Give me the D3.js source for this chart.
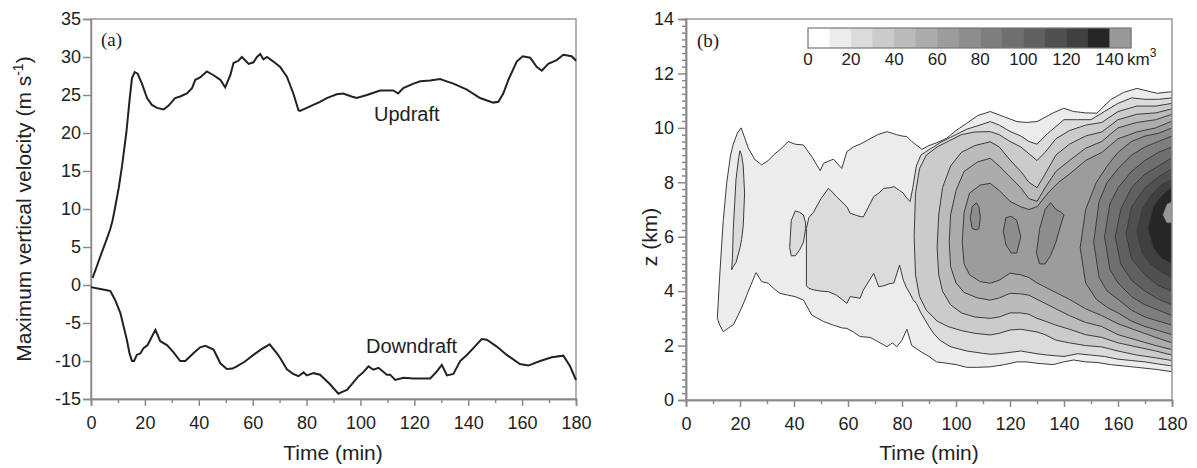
<!DOCTYPE html>
<html>
<head>
<meta charset="utf-8">
<script src="https://cdn.jsdelivr.net/npm/d3@7"></script>
<style>
  body { margin: 0; background: #fff; }
  svg { font-family: "Liberation Sans", Arial, sans-serif; }
  .axis path, .axis line { stroke: #8a8a8a; stroke-width: 1.5; }
  .axis text { font-size: 18px; fill: #222; }
  .title { font-size: 21px; fill: #222; }
</style>
</head>
<body>
<div id="chart"></div>
<script>
// ---- panel (a): maximum vertical velocity ----
var updraft = [[0.6,0.95],[2,2.3],[3.45,3.75],[5.7,5.9],[7.1,7.3],[8,8.5],[9,10.3],[10.3,12.8],[11.5,15.6],
  [13.1,20],[14.3,24.3],[15.2,27.2],[16.2,28.0],[17.3,27.8],[18.9,26.5],[20.8,24.6],[22.6,23.7],[24.5,23.3],
  [27,23.1],[28.8,23.6],[31.2,24.6],[33.1,24.8],[35.6,25.2],[37.5,25.9],[38.7,27],[40.5,27.3],[43,28.1],
  [45.5,27.6],[48,27],[49.8,26.0],[51.7,27.6],[52.9,29.2],[54.7,29.5],[56,30],[58.5,29.1],[60.3,29.3],
  [61.6,30.0],[62.8,30.4],[64,29.7],[65.3,30],[67.7,29.4],[70.2,28.7],[72.7,27.4],[75.1,25.2],[77,23.0],
  [77.6,22.9],[80.1,23.3],[82.5,23.7],[85,24.1],[87.5,24.6],[91.2,25.1],[93.6,25.2],[96.7,24.8],[98.6,24.6],
  [102.4,25.0],[107.3,25.6],[112.2,25.6],[114,25.2],[115.9,25.9],[119.7,26.5],[122.2,26.8],[125.9,26.9],
  [129.6,27.1],[132,26.8],[134.5,26.5],[139.5,25.7],[144.4,24.6],[149.3,24.0],[151.2,24.1],[153,25.2],
  [154.9,27.0],[158,29.4],[160.2,30.1],[163,29.9],[165.4,28.7],[167.3,28.2],[169.7,29.1],[172.8,29.6],
  [175.3,30.3],[178.4,30.1],[180,29.5]];

var downdraft = [[0,-0.28],[3,-0.5],[5.9,-0.7],[7.2,-0.8],[9,-2.0],[10.9,-3.7],[12,-5.3],[13.3,-7.2],
  [14.3,-9.0],[15.2,-10.0],[16,-10.0],[17,-9.2],[18.3,-9.0],[19.5,-8.3],[21,-7.9],[22,-7.2],[23.9,-5.9],
  [25.7,-7.4],[28.2,-7.9],[30.5,-8.8],[33.1,-10.0],[35,-10.0],[38.1,-8.96],[40.5,-8.2],[42.4,-8.0],
  [45.5,-8.5],[48,-10.3],[50.4,-11.06],[52.5,-11.0],[54.1,-10.7],[57,-10.1],[60.3,-9.2],[63,-8.5],
  [66.3,-7.8],[69,-9.0],[70.2,-9.6],[72.7,-11.1],[75,-11.7],[77,-12.0],[78.9,-11.5],[80.1,-11.9],
  [82.6,-11.6],[85,-11.8],[86.5,-12.3],[88.8,-13.1],[91.8,-14.3],[93.7,-14.0],[95,-13.8],[96.2,-13.3],
  [99.3,-12.0],[101,-11.5],[103,-10.7],[104.8,-11.15],[106.7,-10.9],[109.8,-11.8],[111,-11.8],
  [112.9,-12.5],[116,-12.2],[119.7,-12.3],[125.9,-12.3],[128.3,-11.4],[130.2,-10.5],[132.1,-11.9],
  [134.5,-11.7],[137,-10.0],[139.5,-9.2],[141.9,-8.3],[145,-7.1],[146.9,-7.2],[150.6,-8.1],[154.3,-9.2],
  [159.2,-10.4],[162.3,-10.6],[166.7,-10.0],[171,-9.5],[175.3,-9.3],[177.8,-10.7],[180,-12.5]];

var timeTicks = d3.range(0, 181, 20);
var velTicks = d3.range(-15, 36, 5);
var heightTicks = d3.range(0, 15, 2);

// ---- panel (b): volume contours, each piece = [time, lower z, upper z] ----
var lev10 = [[11.6,3.0,3.0],[12.5,2.75,4.6],[13.8,2.51,6.6],[15.1,2.6,8.0],[16.5,2.7,9.0],[17.5,2.76,9.4],
  [19,3.05,9.8],[20.4,3.35,10.0],[21.5,3.6,9.7],[23.1,4.0,9.25],[25.6,4.6,8.82],[26,4.68,8.8],[28,4.35,8.64],
  [30.5,4.29,8.8],[32.4,4.1,9.0],[34.8,3.92,9.2],[37.9,3.85,9.5],[40.4,3.8,9.4],[43.5,3.67,9.37],
  [46.6,3.12,8.94],[49.7,2.95,8.43],[51,2.88,8.7],[54.6,2.75,8.85],[57.7,2.65,8.51],[59.6,2.63,9.13],
  [62,2.5,9.3],[64.5,2.33,9.4],[68.2,2.3,9.6],[71,2.15,9.75],[74.4,1.96,9.86],[76.5,2.1,9.8],[78,1.95,9.75],
  [80,2.2,9.7],[81.8,2.6,9.68],[83.6,2.0,9.5],[87.4,1.75,9.21],[90,1.6,9.35],[92.8,1.4,9.45],[96.6,1.35,9.62],
  [100,1.3,9.9],[104,1.2,10.17],[108,1.2,10.45],[112.7,1.22,10.6],[118,1.3,10.4],[122.6,1.4,10.23],
  [126,1.4,10.2],[130,1.35,10.23],[136,1.3,10.55],[139.9,1.4,10.72],[143.6,1.47,10.6],[148,1.4,10.55],
  [152.2,1.38,10.54],[157.2,1.3,11.03],[162,1.25,11.3],[167,1.2,11.45],[174.5,1.12,11.27],[180,1.04,11.33]];

var lev20a = [[16.9,4.78,4.78],[17.2,4.85,5.2],[17.5,4.9,6.25],[18.5,5.05,8.08],[19.5,5.4,8.9],[20,5.6,9.16],
  [20.6,5.9,9.0],[21.2,6.4,8.6],[21.7,7.6,7.6]];
var lev20b = [[38.4,5.6,5.6],[39,5.3,6.6],[40.5,5.3,6.95],[42,5.5,6.9],[43.5,5.8,6.8],[44.3,6.3,6.5]];
var lev20c = [[44.6,4.2,6.3],[45.5,4.1,6.7],[47.2,4.05,6.9],[50,4.0,7.4],[52.8,3.98,7.78],[55.8,3.85,7.47],
  [59.6,3.55,7.1],[60.8,3.8,6.86],[64.5,3.74,6.74],[65.7,4.04,6.73],[69.5,4.65,7.47],[71.4,4.16,7.6],
  [73.3,4.2,7.78],[75.6,4.28,7.8],[77,4.3,7.84],[79.1,4.96,7.7],[80.5,4.4,7.6],[81.5,4.16,7.45],[83,3.9,7.29],
  [84,3.7,7.8],[85.3,3.55,8.6],[87,3.2,9.0],[90,2.7,9.2],[91.7,2.45,9.3],[94,2.2,9.45],[97.9,1.96,9.65],
  [104,1.8,9.95],[110.3,1.71,10.15],[112.7,1.68,10.23],[116,1.7,10.1],[120,1.75,9.87],[124,1.8,9.7],
  [127,1.75,9.5],[130,1.7,9.4],[134,1.65,9.8],[140,1.6,10.3],[145,1.7,10.3],[150,1.65,10.3],[155,1.6,10.6],
  [160,1.5,10.9],[165,1.45,11.1],[170,1.4,11.05],[175,1.32,11.05],[180,1.25,11.1]];

var lev30 = [[84.5,6.0,6.0],[85,4.6,7.6],[86.5,3.8,8.5],[89,3.3,9.0],[93,2.9,9.3],[97,2.7,9.5],[102,2.55,9.75],
  [107,2.45,9.85],[112.7,2.39,9.86],[116,2.45,9.75],[120,2.57,9.5],[124,2.6,9.3],[127,2.55,9.05],[130,2.5,8.8],
  [133,2.4,9.1],[137,2.2,9.6],[142,2.1,9.9],[148,2.0,10.1],[154,1.95,10.2],[160,1.8,10.6],[167,1.65,10.8],
  [174,1.55,10.8],[180,1.45,10.9]];
var lev40 = [[93,5.6,5.6],[93.6,4.6,6.8],[95,4.0,7.8],[98,3.5,8.6],[102,3.2,9.1],[107,3.05,9.35],[112.7,3.0,9.49],
  [116,3.05,9.3],[120,3.2,8.82],[124,3.2,8.4],[127,3.15,8.0],[130,3.0,7.8],[133,2.9,8.3],[137,2.75,9.0],
  [142,2.6,9.4],[148,2.4,9.7],[154,2.3,9.85],[160,2.1,10.3],[167,1.95,10.5],[174,1.8,10.55],[180,1.65,10.7]];
var lev50 = [[97.5,5.8,5.8],[98,4.9,6.8],[100,4.3,7.7],[103,3.95,8.4],[108,3.75,8.75],[112.7,3.67,8.88],
  [116,3.75,8.6],[120,3.92,8.2],[124,3.9,7.8],[127,3.85,7.4],[130,3.7,7.3],[133,3.55,7.8],[137,3.35,8.4],
  [142,3.1,8.8],[148,2.85,9.25],[154,2.7,9.5],[160,2.4,10.0],[167,2.2,10.2],[174,2.0,10.3],[180,1.85,10.5]];
var lev60 = [[102.3,5.8,5.8],[103,5.0,6.9],[105,4.6,7.6],[109,4.35,7.9],[112.7,4.29,7.96],[116,4.4,7.7],
  [120,4.66,7.3],[124,4.6,7.1],[127,4.5,7.0],[130,4.3,7.1],[134,4.1,7.6],[138,3.9,8.0],[142,3.7,8.3],
  [148,3.35,8.8],[154,3.1,9.1],[160,2.8,9.6],[167,2.55,9.85],[174,2.3,10.0],[180,2.1,10.25]];
var lev70a = [[105.3,6.7,6.7],[106,6.3,7.1],[107.5,6.25,7.25],[108.5,6.3,7.1],[109,6.7,6.7]];
var lev70b = [[117.5,6.2,6.2],[118.5,5.7,6.7],[120.5,5.4,6.75],[122.5,5.4,6.6],[124,6.0,6.0]];
var lev70c = [[129.8,5.4,5.4],[131,5.0,6.3],[133,5.0,7.0],[135,5.3,7.25],[137,5.8,7.0],[139,6.5,6.9],[140,6.8,6.8]];
var lev70d = [[146,5.6,5.6],[148,4.3,7.0],[152,3.7,8.0],[156,3.4,8.6],[160,3.2,9.1],[165,2.9,9.5],[170,2.7,9.7],
  [175,2.55,9.8],[180,2.4,10.0]];
var lev80 = [[151,5.8,5.8],[153,4.5,7.3],[156,4.0,8.0],[160,3.7,8.5],[165,3.3,9.0],[170,3.05,9.3],[175,2.9,9.5],[180,2.75,9.7]];
var lev90 = [[155,6.0,6.0],[157,4.8,7.2],[160,4.3,7.8],[165,3.8,8.4],[170,3.5,8.8],[175,3.3,9.1],[180,3.1,9.3]];
var lev100 = [[159,6.0,6.0],[161,5.0,7.0],[165,4.4,7.8],[170,4.0,8.3],[175,3.7,8.6],[180,3.5,8.9]];
var lev110 = [[163,6.1,6.1],[165,5.2,7.1],[170,4.6,7.8],[175,4.2,8.2],[180,4.0,8.5]];
var lev120 = [[167,6.2,6.2],[169,5.4,7.0],[172,5.0,7.5],[176,4.7,7.9],[180,4.5,8.1]];
var lev130 = [[171,6.3,6.3],[173,5.6,7.1],[176,5.2,7.5],[180,5.0,7.85]];
var lev140 = [[176.5,6.8,6.8],[178,6.5,7.2],[180,6.5,7.3]];

var levels = [10,20,30,40,50,60,70,80,90,100,110,120,130,140];
var levelColors = ["#ececec","#dbdbdb","#cbcbcb","#bbbbbb","#acacac","#9c9c9c","#8d8d8d",
  "#7e7e7e","#6f6f6f","#606060","#505050","#404040","#262626","#999999"];
var levelPieces = [[lev10],[lev20a,lev20b,lev20c],[lev30],[lev40],[lev50],[lev60],
  [lev70a,lev70b,lev70c,lev70d],[lev80],[lev90],[lev100],[lev110],[lev120],[lev130],[lev140]];
var barTicks = d3.range(0, 141, 20);

var width = 1197, height = 468;
var plain = function(d) { return String(d); };   // hyphen minus like the original

var svg = d3.select("#chart").append("svg")
  .attr("width", width).attr("height", height);

//----- panel (a)
var xA = d3.scaleLinear().domain([0, 180]).range([91, 576]);
var yA = d3.scaleLinear().domain([-15, 35]).range([399, 19]);

svg.append("rect")
  .attr("x", 91).attr("y", 19).attr("width", 485).attr("height", 380)
  .attr("fill", "none").attr("stroke", "#9a9a9a").attr("stroke-width", 1.5);

svg.append("g").attr("class", "axis")
  .attr("transform", "translate(0,399)")
  .call(d3.axisBottom(xA).tickValues(d3.range(10, 180, 20)).tickSize(4).tickFormat(""));
svg.append("g").attr("class", "axis")
  .attr("transform", "translate(0,399)")
  .call(d3.axisBottom(xA).tickValues(timeTicks).tickSize(7).tickPadding(10).tickFormat(plain));
svg.append("g").attr("class", "axis")
  .attr("transform", "translate(91,0)")
  .call(d3.axisLeft(yA).tickValues(velTicks).tickSize(8).tickPadding(2).tickFormat(plain));

var lineA = d3.line()
  .x(function(d) { return xA(d[0]); })
  .y(function(d) { return yA(d[1]); });

svg.append("path").datum(updraft)
  .attr("d", lineA).attr("fill", "none").attr("stroke", "#222").attr("stroke-width", 2);
svg.append("path").datum(downdraft)
  .attr("d", lineA).attr("fill", "none").attr("stroke", "#222").attr("stroke-width", 2);

svg.append("text").attr("x", 374).attr("y", 121).attr("font-size", 20).attr("fill", "#222").text("Updraft");
svg.append("text").attr("x", 366).attr("y", 353).attr("font-size", 20).attr("fill", "#222").text("Downdraft");
svg.append("text").attr("x", 101).attr("y", 46)
  .attr("font-family", "Liberation Serif, Times New Roman, serif").attr("font-size", 19).attr("fill", "#222").text("(a)");

svg.append("text").attr("class", "title")
  .attr("x", 333).attr("y", 460).attr("text-anchor", "middle").text("Time (min)");

var yTitle = svg.append("text").attr("class", "title")
  .attr("transform", "translate(31,209) rotate(-90)").attr("text-anchor", "middle")
  .attr("font-size", 22);
yTitle.append("tspan").text("Maximum vertical velocity (m s");
yTitle.append("tspan").attr("dy", -8).attr("font-size", 14).text("-1");
yTitle.append("tspan").attr("dy", 8).text(")");

//----- panel (b)
var xB = d3.scaleLinear().domain([0, 180]).range([686, 1172]);
var yB = d3.scaleLinear().domain([0, 14]).range([400, 19]);

svg.append("clipPath").attr("id", "clipB")
  .append("rect").attr("x", 686).attr("y", 19).attr("width", 486).attr("height", 381);

var areaB = d3.area()
  .x(function(d) { return xB(d[0]); })
  .y0(function(d) { return yB(d[1]); })
  .y1(function(d) { return yB(d[2]); });

var contourG = svg.append("g").attr("clip-path", "url(#clipB)");
levels.forEach(function(lv, i) {
  contourG.selectAll(".lev" + lv)
    .data(levelPieces[i])
    .enter().append("path")
    .attr("class", "lev" + lv)
    .attr("d", areaB)
    .attr("fill", levelColors[i])
    .attr("stroke", "#3c3c3c")
    .attr("stroke-width", 1)
    .attr("stroke-linejoin", "round");
});

svg.append("rect")
  .attr("x", 686).attr("y", 19).attr("width", 486).attr("height", 381)
  .attr("fill", "none").attr("stroke", "#9a9a9a").attr("stroke-width", 1.5);

svg.append("g").attr("class", "axis")
  .attr("transform", "translate(0,400)")
  .call(d3.axisBottom(xB).tickValues(d3.range(10, 180, 20)).tickSize(4).tickFormat(""));
svg.append("g").attr("class", "axis")
  .attr("transform", "translate(0,400)")
  .call(d3.axisBottom(xB).tickValues(timeTicks).tickSize(7).tickPadding(10).tickFormat(plain));
svg.append("g").attr("class", "axis")
  .attr("transform", "translate(686,0)")
  .call(d3.axisLeft(yB).tickValues(d3.range(0, 14.01, 0.25).filter(function(v) { return v % 2 !== 0; }))
    .tickSize(4).tickFormat(""));
svg.append("g").attr("class", "axis")
  .attr("transform", "translate(686,0)")
  .call(d3.axisLeft(yB).tickValues(heightTicks).tickSize(8).tickPadding(4).tickFormat(plain));

svg.append("text").attr("x", 697).attr("y", 47)
  .attr("font-family", "Liberation Serif, Times New Roman, serif").attr("font-size", 19).attr("fill", "#222").text("(b)");

svg.append("text").attr("class", "title")
  .attr("x", 929).attr("y", 460).attr("text-anchor", "middle").text("Time (min)");
svg.append("text").attr("class", "title")
  .attr("transform", "translate(657,237) rotate(-90)").attr("text-anchor", "middle").text("z (km)");

// colour bar
var cb = d3.scaleLinear().domain([0, 150]).range([808, 1131]);
var bins = d3.range(0, 150, 10);
var cbColors = ["#ffffff"].concat(levelColors);
svg.selectAll(".cbin").data(bins).enter().append("rect")
  .attr("class", "cbin")
  .attr("x", function(d) { return cb(d); })
  .attr("y", 28)
  .attr("width", function(d) { return cb(d + 10) - cb(d) + 0.5; })
  .attr("height", 20)
  .attr("fill", function(d, i) { return cbColors[i]; });
svg.append("rect").attr("x", 808).attr("y", 28).attr("width", 323).attr("height", 20)
  .attr("fill", "none").attr("stroke", "#777").attr("stroke-width", 1.2);
svg.selectAll(".cbtick").data(barTicks).enter().append("text")
  .attr("class", "cbtick")
  .attr("x", function(d) { return cb(d); })
  .attr("y", 65).attr("text-anchor", "middle")
  .attr("font-size", 17).attr("fill", "#222")
  .text(function(d) { return d; });
var unit = svg.append("text").attr("x", 1127).attr("y", 65).attr("font-size", 17).attr("fill", "#222");
unit.append("tspan").text("km");
unit.append("tspan").attr("dy", -8).attr("font-size", 12).text("3");
</script>
</body>
</html>
